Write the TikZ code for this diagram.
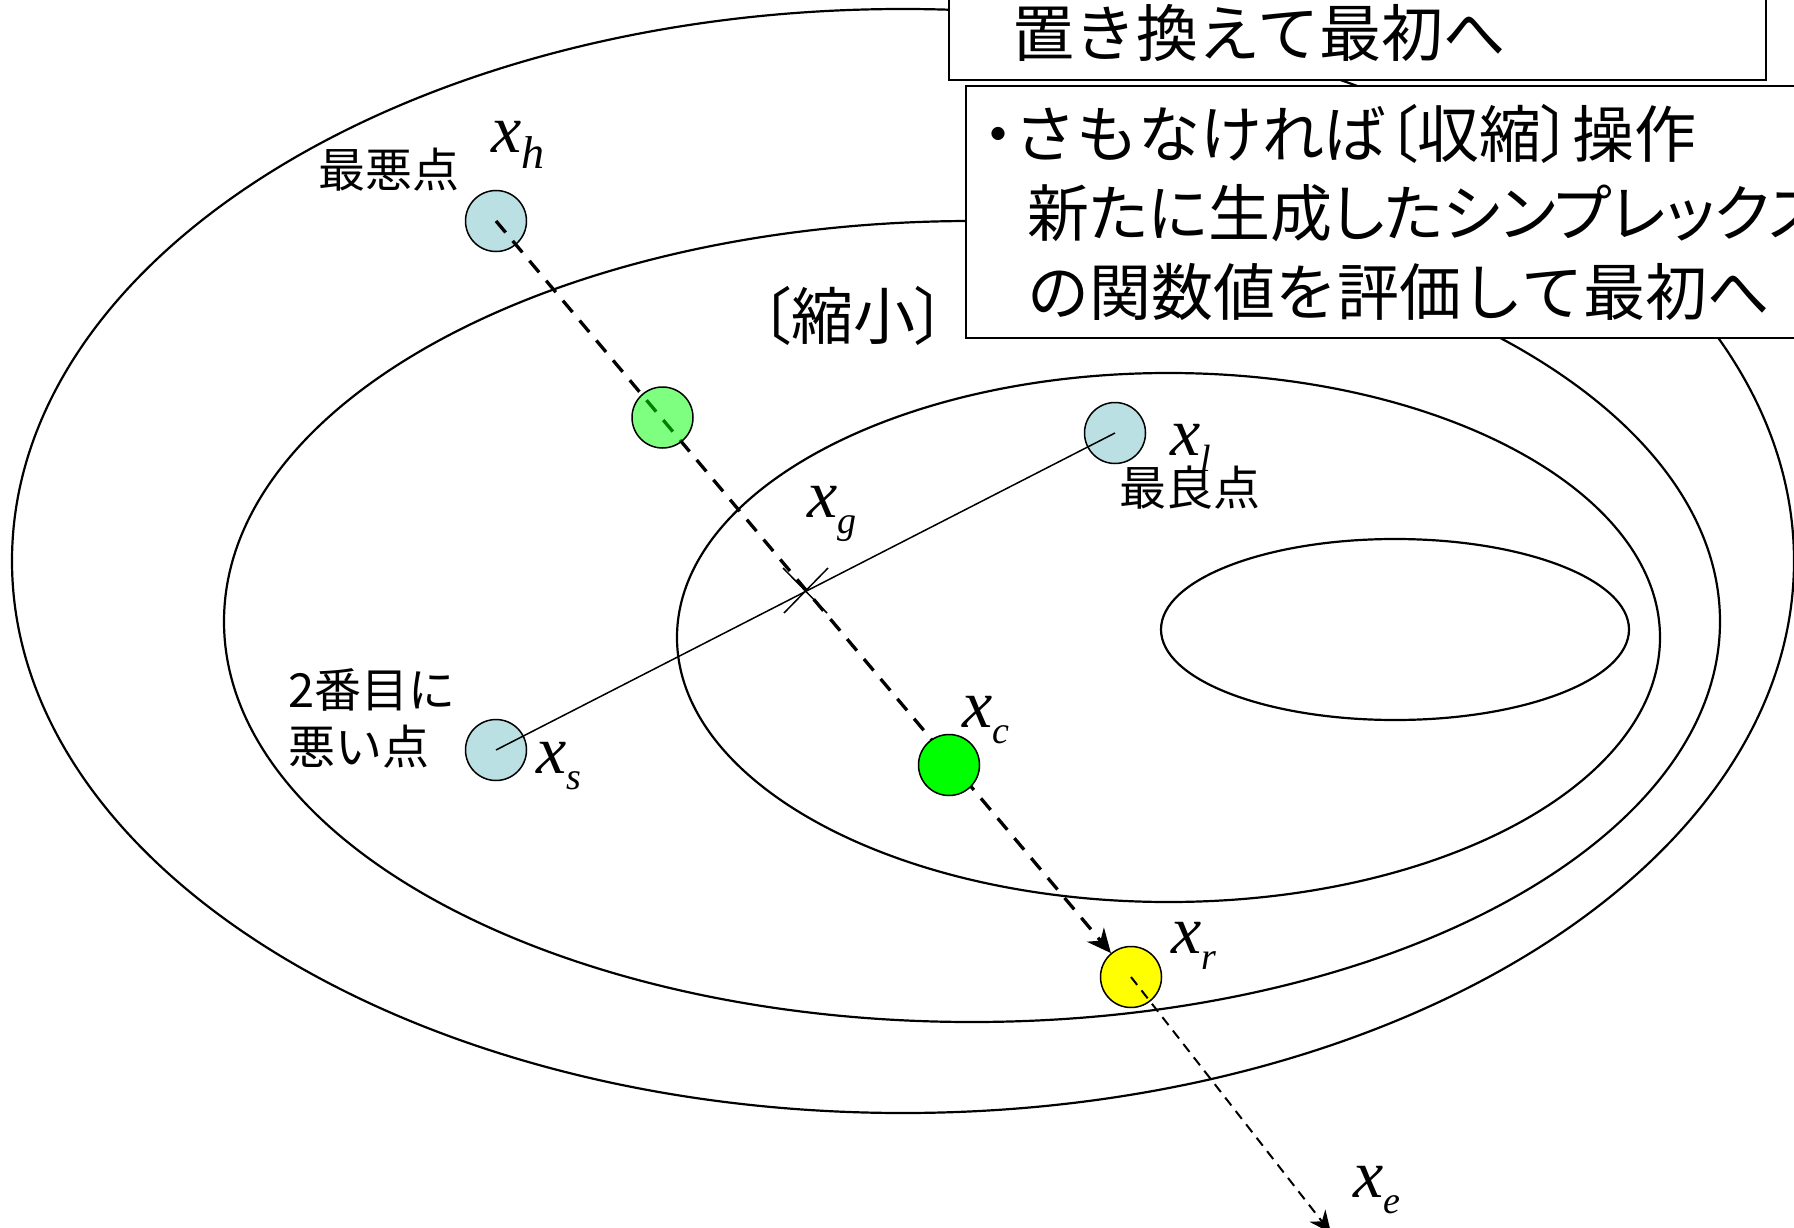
\documentclass[tikz,border=0pt]{standalone}
\usepackage{fontspec}
\newfontfamily\jp{Noto Sans CJK JP}
\newfontfamily\jpp[RawFeature=+palt]{Noto Sans CJK JP}
\newfontfamily\tms{Liberation Serif}
\usetikzlibrary{arrows.meta}
\definecolor{lblue}{RGB}{187,224,227}
\definecolor{vgreen}{RGB}{0,255,0}
\definecolor{yel}{RGB}{255,255,0}
\newcommand\xv[2][38pt]{{\tms\itshape\fontsize{68pt}{68pt}\selectfont x}\raisebox{-16pt}{\tms\itshape\fontsize{#1}{#1}\selectfont #2}}
\newcommand\jbig{\jp\fontsize{62pt}{62pt}\selectfont}
\newcommand\jsmall{\jp\fontsize{47pt}{57pt}\selectfont}
\begin{document}
\begin{tikzpicture}[x=1pt,y=-1pt,
  contour/.style={line width=2.2pt},
  pnt/.style={circle,draw,line width=1.5pt,minimum size=61pt,inner sep=0pt},
  lab/.style={inner sep=0pt,anchor=base west},
  jlab/.style={inner sep=0pt,font=\jsmall},
  infobox/.style={draw,fill=white,line width=2pt,inner sep=0pt,anchor=north west},
  boxline/.style={inner sep=0pt,anchor=west,font=\jbig},
]
\useasboundingbox (0,0) rectangle (1794,1228);
\clip (0,0) rectangle (1794,1228);
% contour ellipses
\draw[contour] (903,561) ellipse [x radius=891pt, y radius=552pt];
\draw[contour] (972,621.5) ellipse [x radius=748pt, y radius=400.5pt];
\draw[contour] (1168.5,637.5) ellipse [x radius=491.5pt, y radius=264.5pt];
\draw[contour] (1395,629.5) ellipse [x radius=234pt, y radius=90.5pt];
% boxes
\node[infobox, minimum width=817pt, minimum height=89pt] (b1) at (948,-10) {};
\node[infobox, minimum width=850pt, minimum height=252pt] (b2) at (964.5,85) {};
\node[boxline] (t1) at (1012,32.5) {置き換えて最初へ};
\node[boxline] (t2) at (983,134) {{\jpp ・}さもなければ{\jpp 〔}収縮{\jpp 〕}操作};
\node[boxline] (t3) at (1027,213) {{\jpp 新たに生成したシンプレックス}};
\node[boxline] (t4) at (1027,292) {の関数値を評価して最初へ};
\node[inner sep=0pt, font=\jbig] (shk) at (853,316) {{\jpp 〔}縮小{\jpp 〕}};
% points
\node[pnt,fill=lblue] (xh) at (496,221) {};
\node[pnt,fill=lblue] (xs) at (496,750) {};
\node[pnt,fill=lblue] (xl) at (1115,433) {};
\node[pnt,fill=yel] (xr) at (1131,977) {};
\coordinate (xg) at (805,591);
\coordinate (xe) at (1331,1233);
\draw[line width=3.3pt, dash pattern=on 15pt off 11pt, -{Stealth[length=24pt,width=22pt]}] (xh.center) -- (xr);
\node[pnt,fill=vgreen,fill opacity=0.5] (xm) at (662.5,417.5) {};
\node[pnt,fill=vgreen] (xc) at (949,765) {};
\draw[line width=2pt, dash pattern=on 10pt off 7pt, -{Stealth[length=22pt,width=20pt]}] (xr.center) -- (xe);
\draw[line width=1.5pt] (xs.center) -- (xl.center);
\draw[line width=1.5pt] ([shift={(-21,22)}]xg) -- ([shift={(23,-23)}]xg);
\draw[line width=1.5pt] ([shift={(-22,-23)}]xg) -- ([shift={(22,22)}]xg);
% labels
\node[lab] (lxh) at (491,153) {\xv[46pt]{h}};
\node[lab] (lxl) at (1170,455) {\xv{l}};
\node[lab] (lxg) at (807,517) {\xv{g}};
\node[lab] (lxs) at (536,773) {\xv{s}};
\node[lab] (lxc) at (962,727) {\xv{c}};
\node[lab] (lxr) at (1171,953) {\xv{r}};
\node[lab] (lxe) at (1353,1197) {\xv{e}};
\node[jlab] (wst) at (389,170) {最悪点};
\node[jlab] (bst) at (1190,488) {最良点};
\node[jlab, align=left, anchor=north west] (snd) at (288,668) {2番目に\\悪い点};
\end{tikzpicture}
\end{document}
